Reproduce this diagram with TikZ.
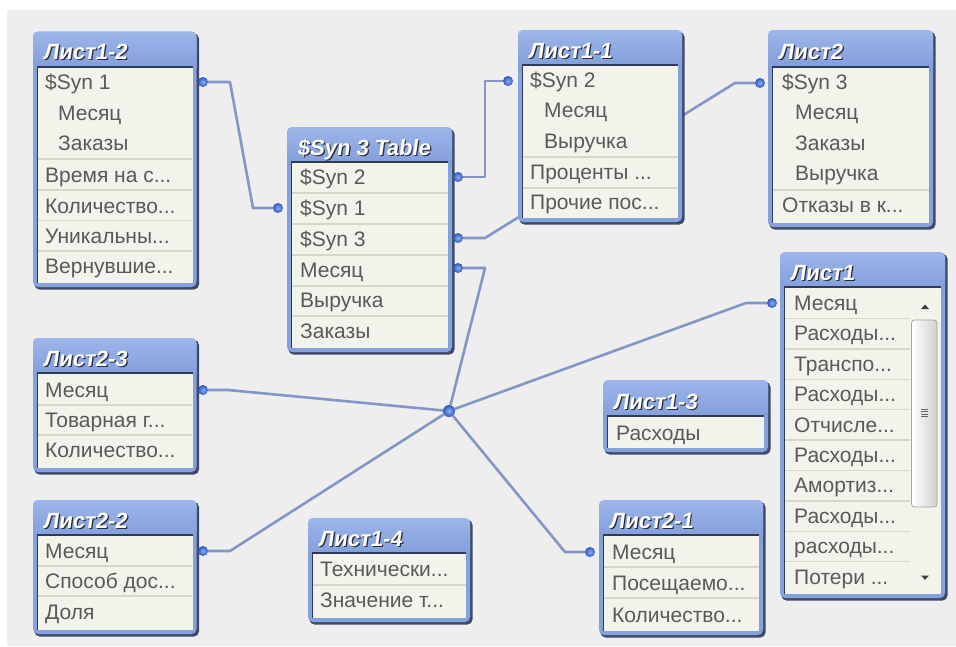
\documentclass[tikz,border=0pt]{standalone}
\usepackage{fontspec}
\setmainfont{Liberation Sans}
\newfontfamily\ttlfont[FakeSlant=0.14]{Liberation Sans Bold}
\definecolor{bgray}{HTML}{EEEEEE}
\definecolor{connblue}{HTML}{8496C6}
\definecolor{dotin}{HTML}{8CAEF2}
\definecolor{dotout}{HTML}{2F56BE}
\definecolor{bodycream}{HTML}{F3F3EB}
\definecolor{sepgray}{HTML}{D6D6CE}
\definecolor{txtgray}{HTML}{595959}
\definecolor{frameblue}{HTML}{86A2DC}
\definecolor{ttltop}{HTML}{9DB5EA}
\definecolor{ttlbot}{HTML}{7F9CD8}
\definecolor{shadowc}{HTML}{3E4A68}
\definecolor{darkline}{HTML}{2E3A58}
\definecolor{ttlshadow}{HTML}{2A2A3A}
\pgfdeclarelayer{bgl}
\pgfdeclarelayer{conns}
\pgfsetlayers{bgl,conns,main}
\tikzset{
  boxshadow/.style={fill=shadowc, rounded corners=5pt},
  boxframe/.style={fill=frameblue, rounded corners=5pt},
  ttlshade/.style={top color=ttltop, bottom color=ttlbot, rounded corners=5pt},
  bodyfill/.style={fill=bodycream},
  innerdark/.style={draw=darkline, line width=1.4pt},
  ttlline/.style={draw=darkline, line width=2pt},
  sepline/.style={draw=sepgray, line width=1.5pt},
  rowtext/.style={anchor=base west, inner sep=0pt, text=txtgray, font=\fontsize{21}{24}\selectfont},
  ttltext/.style={anchor=base west, inner sep=0pt, font=\fontsize{22}{26}\ttlfont},
  conn/.style={draw=connblue, line width=2.6pt, line join=round},
  dotnode/.style={circle, inner sep=0pt, minimum size=10pt, inner color=dotin, outer color=dotout},
  hubnode/.style={circle, inner sep=0pt, minimum size=12pt, inner color=dotin, outer color=dotout},
}
% #1 name, #2 left, #3 top, #4 right, #5 title bottom, #6 bottom, #7 title
\newcommand{\qvbox}[7]{%
  \fill[boxshadow] ({#2+1.5},{#3+2}) rectangle ({#4+2.5},{#6+2.5});
  \fill[boxframe] ({#2},{#3}) rectangle ({#4},{#6});
  \shade[ttlshade] ({#2},{#3}) rectangle ({#4},{#5+6});
  \fill[bodyfill] ({#2+4},{#5}) rectangle ({#4-4},{#6-4});
  \draw[innerdark] ({#2+4.5},{#5}) -- ({#2+4.5},{#6-4});
  \draw[ttlline] ({#2+4},{#5}) -- ({#4-4},{#5});
  \node[ttltext, text=ttlshadow] (#1-sh) at ({#2+11.2},{#5-5.8}) {#7};
  \node[ttltext, text=white] (#1) at ({#2+10},{#5-7}) {#7};
}
\newcommand{\qvrow}[4]{\node[rowtext] (#1) at ({#2},{#3+7.5}) {#4};}
\newcommand{\qvsep}[3]{\draw[sepline] ({#1},{#3}) -- ({#2},{#3});}
\begin{document}
\begin{tikzpicture}[x=1pt,y=-1pt]
\useasboundingbox (0,0) rectangle (956,646);
\begin{pgfonlayer}{bgl}
  \fill[white] (0,0) rectangle (956,646);
  \fill[bgray] (7,10) rectangle (956,646);
\end{pgfonlayer}

% Лист1-2
\qvbox{t12}{33}{31.5}{196.5}{66.5}{287}{Лист1-2}
\qvrow{t12a}{45}{82}{\$Syn 1}
\qvrow{t12b}{58}{113}{Месяц}
\qvrow{t12c}{58}{143}{Заказы}
\qvsep{38}{192}{159}
\qvrow{t12d}{45}{175}{Время на с...}
\qvsep{38}{192}{190}
\qvrow{t12e}{45}{206}{Количество...}
\qvsep{38}{192}{220.5}
\qvrow{t12f}{45}{236}{Уникальны...}
\qvsep{38}{192}{251}
\qvrow{t12g}{45}{266}{Вернувшие...}

% $Syn 3 Table
\qvbox{ts}{287}{127}{452}{162}{352}{\$Syn 3 Table}
\qvrow{tsa}{300}{177}{\$Syn 2}
\qvsep{292}{448}{193}
\qvrow{tsb}{300}{208}{\$Syn 1}
\qvsep{292}{448}{224}
\qvrow{tsc}{300}{239}{\$Syn 3}
\qvsep{292}{448}{255}
\qvrow{tsd}{300}{270}{Месяц}
\qvsep{292}{448}{286}
\qvrow{tse}{300}{300}{Выручка}
\qvsep{292}{448}{316}
\qvrow{tsf}{300}{331}{Заказы}

% Лист1-1
\qvbox{t11}{518}{30}{682}{65}{222}{Лист1-1}
\qvrow{t11a}{530}{80}{\$Syn 2}
\qvrow{t11b}{544}{110}{Месяц}
\qvrow{t11c}{544}{141}{Выручка}
\qvsep{523}{678}{157}
\qvrow{t11d}{530}{172}{Проценты ...}
\qvsep{523}{678}{188}
\qvrow{t11e}{530}{202}{Прочие пос...}

% Лист2
\qvbox{t2}{768}{30}{933}{66.5}{227}{Лист2}
\qvrow{t2a}{782}{82}{\$Syn 3}
\qvrow{t2b}{795}{112}{Месяц}
\qvrow{t2c}{795}{143}{Заказы}
\qvrow{t2d}{795}{173}{Выручка}
\qvsep{773}{929}{190}
\qvrow{t2e}{782}{205}{Отказы в к...}

% Лист1
\qvbox{t1}{780}{252}{945}{287}{598}{Лист1}
\qvrow{t1a}{794}{303}{Месяц}
\qvrow{t1b}{794}{333.4}{Расходы...}
\qvrow{t1c}{794}{363.8}{Транспо...}
\qvrow{t1d}{794}{394.2}{Расходы...}
\qvrow{t1e}{794}{424.6}{Отчисле...}
\qvrow{t1f}{794}{455}{Расходы...}
\qvrow{t1g}{794}{485.4}{Амортиз...}
\qvrow{t1h}{794}{515.8}{Расходы...}
\qvrow{t1i}{794}{546.2}{расходы...}
\qvrow{t1j}{794}{576.6}{Потери ...}
\foreach \k in {0,...,8} {\qvsep{785}{910}{318.5+30.4*\k}}
% scrollbar
\shade[left color=white, right color=black!18, draw=black!35, line width=0.8pt, rounded corners=3pt] (911.5,320) rectangle (937,507);
\foreach \g in {0,...,3} {\draw[black!60, line width=0.8pt] (921,{409+2.6*\g}) -- (928,{409+2.6*\g});}
\fill[black!75] (921,309) -- (929,309) -- (925,304.5) -- cycle;
\fill[black!75] (921,575.5) -- (929,575.5) -- (925,580) -- cycle;

% Лист2-3
\qvbox{t23}{33}{338}{196.5}{373}{472}{Лист2-3}
\qvrow{t23a}{45}{390}{Месяц}
\qvsep{38}{192}{405}
\qvrow{t23b}{45}{420}{Товарная г...}
\qvsep{38}{192}{435}
\qvrow{t23c}{45}{450}{Количество...}

% Лист2-2
\qvbox{t22}{33}{500}{196.5}{535}{634}{Лист2-2}
\qvrow{t22a}{45}{551}{Месяц}
\qvsep{38}{192}{566}
\qvrow{t22b}{45}{581}{Способ дос...}
\qvsep{38}{192}{596}
\qvrow{t22c}{45}{612}{Доля}

% Лист1-4
\qvbox{t14}{308}{518}{470}{553}{622}{Лист1-4}
\qvrow{t14a}{320}{569}{Технически...}
\qvsep{313}{466}{585}
\qvrow{t14b}{320}{600}{Значение т...}

% Лист1-3
\qvbox{t13}{603}{380}{768}{416}{452}{Лист1-3}
\qvrow{t13a}{616}{433}{Расходы}

% Лист2-1
\qvbox{t21}{599}{500}{763}{535}{635}{Лист2-1}
\qvrow{t21a}{612}{552}{Месяц}
\qvsep{604}{759}{567}
\qvrow{t21b}{612}{583}{Посещаемо...}
\qvsep{604}{759}{598}
\qvrow{t21c}{612}{615}{Количество...}

% dots
\node[dotnode] (d12) at (203,82) {};
\node[dotnode] (dsL) at (278,208) {};
\node[dotnode] (ds2) at (458,177) {};
\node[dotnode] (ds3) at (458,238) {};
\node[dotnode] (dsm) at (458,268) {};
\node[dotnode] (d11) at (508,81) {};
\node[dotnode] (d2) at (760,83) {};
\node[dotnode] (d1) at (772,303) {};
\node[dotnode] (d23) at (203,390) {};
\node[dotnode] (d22) at (203,551) {};
\node[dotnode] (d21) at (590,552) {};
\node[hubnode] (hub) at (449,411) {};

\coordinate (c1) at (230,82);
\coordinate (c2) at (253,208);
\coordinate (c3) at (485,177);
\coordinate (c4) at (485,81);
\coordinate (c5) at (485,238);
\coordinate (c6) at (735,83);
\coordinate (c7) at (485,268);
\coordinate (c8) at (228,390);
\coordinate (c9) at (230,551);
\coordinate (c10) at (746,303);
\coordinate (c11) at (565,552);

\begin{pgfonlayer}{conns}
  \draw[conn] (d12) -- (c1) -- (c2) -- (dsL);
  \draw[conn] (ds2) -- (c3) -- (c4) -- (d11);
  \draw[conn] (ds3) -- (c5) -- (c6) -- (d2);
  \draw[conn] (dsm) -- (c7) -- (hub);
  \draw[conn] (d23) -- (c8) -- (hub);
  \draw[conn] (d22) -- (c9) -- (hub);
  \draw[conn] (hub) -- (c10) -- (d1);
  \draw[conn] (hub) -- (c11) -- (d21);
\end{pgfonlayer}
\end{tikzpicture}
\end{document}
